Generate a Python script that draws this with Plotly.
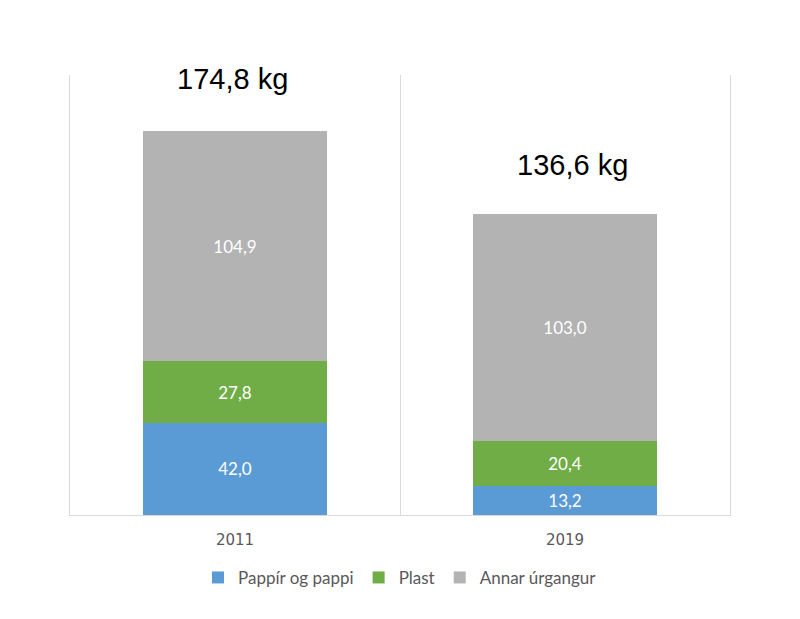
import plotly.graph_objects as go

years = ["2011", "2019"]
pappir = [42.0, 13.2]
plast = [27.8, 20.4]
annar = [104.9, 103.0]
totals_text = ["174,8 kg", "136,6 kg"]
totals_y = [198, 159]

series = [
    ("Pappír og pappi", pappir, "#5B9BD5"),
    ("Plast", plast, "#70AD47"),
    ("Annar úrgangur", annar, "#B3B3B3"),
]

fig = go.Figure()
for name, vals, col in series:
    fig.add_trace(go.Bar(
        x=years, y=vals, name=name, marker=dict(color=col, line=dict(width=0)),
        texttemplate="%{y:.1f}", textposition="inside", insidetextanchor="middle",
        textfont=dict(color="white", size=17, family="Lato"),
        width=0.557,
    ))

xshifts = [-3, 7]
for i, (t, ty) in enumerate(zip(totals_text, totals_y)):
    fig.add_annotation(x=i, y=ty, xref="x", yref="y", text=t, showarrow=False,
                       xshift=xshifts[i],
                       font=dict(family="Liberation Sans, Arial", size=29, color="black"),
                       xanchor="center", yanchor="middle")

fig.update_layout(
    barmode="stack",
    separators=", ",
    width=800, height=619,
    margin=dict(l=62, r=78, t=67, b=112, autoexpand=False),
    plot_bgcolor="white", paper_bgcolor="white",
    legend=dict(orientation="h", x=0.5, xanchor="center", y=-0.143, yanchor="middle",
                font=dict(family="Lato", size=17, color="#595959"), traceorder="normal",
                itemwidth=30),
    xaxis=dict(type="category", tickson="boundaries", showgrid=True, gridcolor="#D9D9D9",
               gridwidth=1, showline=True, linecolor="#D9D9D9", ticks="", range=[-0.5, 1.5],
               ticklabelstandoff=11,
               tickfont=dict(family="DejaVu Sans", size=15, color="#595959")),
    yaxis=dict(range=[0, 200], showgrid=False, showticklabels=False, zeroline=False,
               showline=True, mirror=True, linecolor="#D9D9D9"),
    showlegend=True,
)

fig.write_html("out.html")
